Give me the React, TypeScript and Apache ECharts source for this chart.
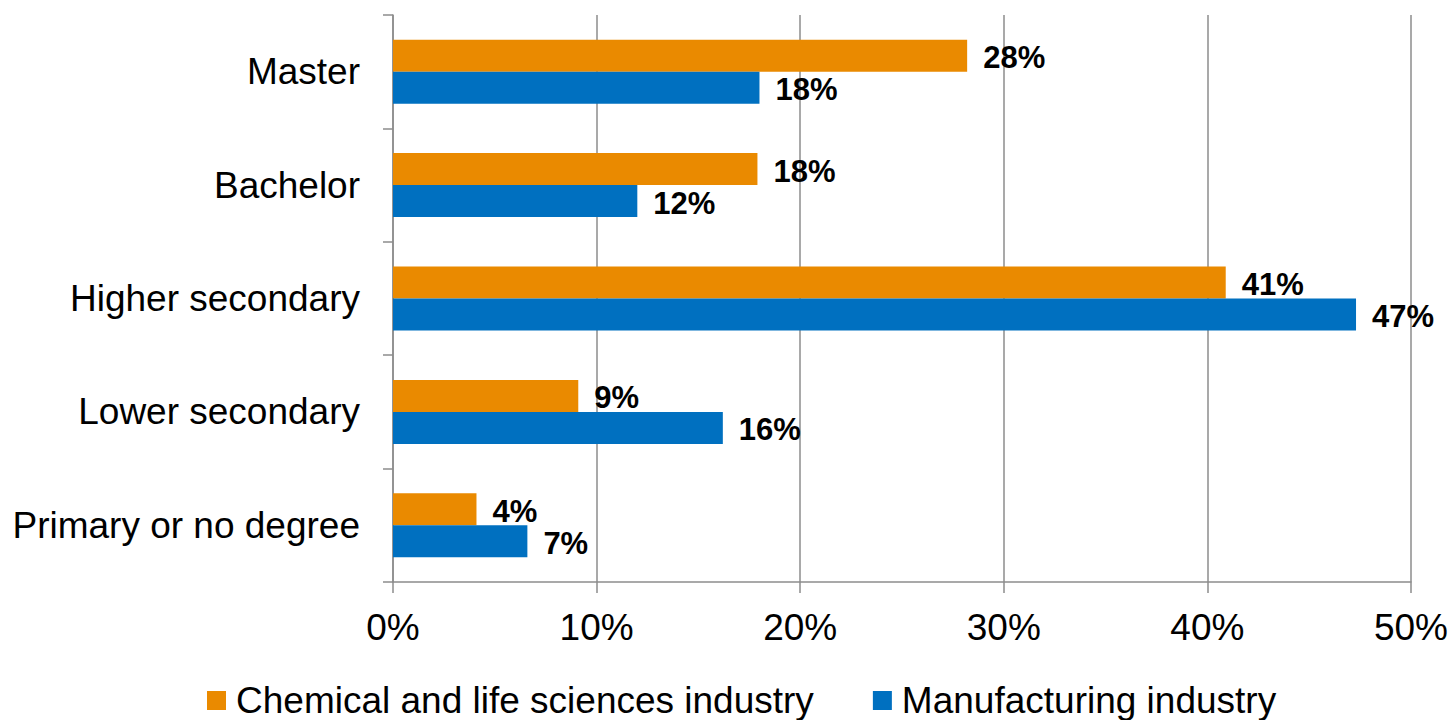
import React, { useEffect, useRef } from "react";
import * as echarts from "echarts";

const categories = ["Primary or no degree", "Lower secondary", "Higher secondary", "Bachelor", "Master"];
const chemicalValues = [4.1, 9.1, 40.9, 17.9, 28.2];
const manufacturingValues = [6.6, 16.2, 47.3, 12.0, 18.0];
const seriesNames = ["Chemical and life sciences industry", "Manufacturing industry"];
const xTicks = [0, 10, 20, 30, 40, 50];

const FONT = "'Liberation Sans', Arial, sans-serif";
const GRAY = "#8c8c8c";

export default function App() {
  const ref = useRef<HTMLDivElement>(null);
  useEffect(() => {
    if (!ref.current) return;
    const chart = echarts.init(ref.current, null, { renderer: "svg" });
    const labelCfg = {
      show: true,
      position: "right",
      distance: 16,
      offset: [0, 2],
      color: "#000",
      fontWeight: "bold",
      fontSize: 31,
      fontFamily: FONT,
      formatter: (p: any) => Math.round(p.value) + "%",
    };
    chart.setOption({
      animation: false,
      backgroundColor: "#fff",
      textStyle: { fontFamily: FONT },
      grid: { left: 393, right: 41, top: 15, bottom: 138, containLabel: false },
      legend: {
        left: 207,
        top: 682,
        padding: 0,
        itemWidth: 19,
        itemHeight: 19,
        itemGap: 59,
        icon: "rect",
        textStyle: { fontSize: 37, lineHeight: 37, color: "#000", fontFamily: FONT, padding: [0, 0, 0, 5] },
        data: seriesNames,
      },
      xAxis: {
        type: "value",
        min: xTicks[0],
        max: xTicks[xTicks.length - 1],
        interval: 10,
        axisLine: { show: true, lineStyle: { color: GRAY, width: 1.5 } },
        axisTick: { show: true, length: 11, lineStyle: { color: GRAY, width: 1.5 } },
        splitLine: { show: true, lineStyle: { color: GRAY, width: 1.5 } },
        axisLabel: {
          margin: 27,
          fontSize: 37,
          color: "#000",
          fontFamily: FONT,
          formatter: (v: number) => v + "%",
        },
      },
      yAxis: {
        type: "category",
        data: categories,
        axisLine: { show: true, lineStyle: { color: GRAY, width: 1.5 } },
        axisTick: { show: true, length: 10, lineStyle: { color: GRAY, width: 1.5 } },
        axisLabel: { margin: 33, fontSize: 37, color: "#000", fontFamily: FONT },
      },
      series: [
        {
          name: seriesNames[0],
          type: "bar",
          data: chemicalValues,
          barWidth: 32,
          barGap: "0%",
          itemStyle: { color: "#EA8A00" },
          label: labelCfg,
        },
        {
          name: seriesNames[1],
          type: "bar",
          data: manufacturingValues,
          barWidth: 32,
          barGap: "0%",
          itemStyle: { color: "#0070C0" },
          label: labelCfg,
        },
      ],
    });
    return () => chart.dispose();
  }, []);
  return <div ref={ref} style={{ position: "fixed", left: 0, top: 0, width: 1452, height: 720 }} />;
}
